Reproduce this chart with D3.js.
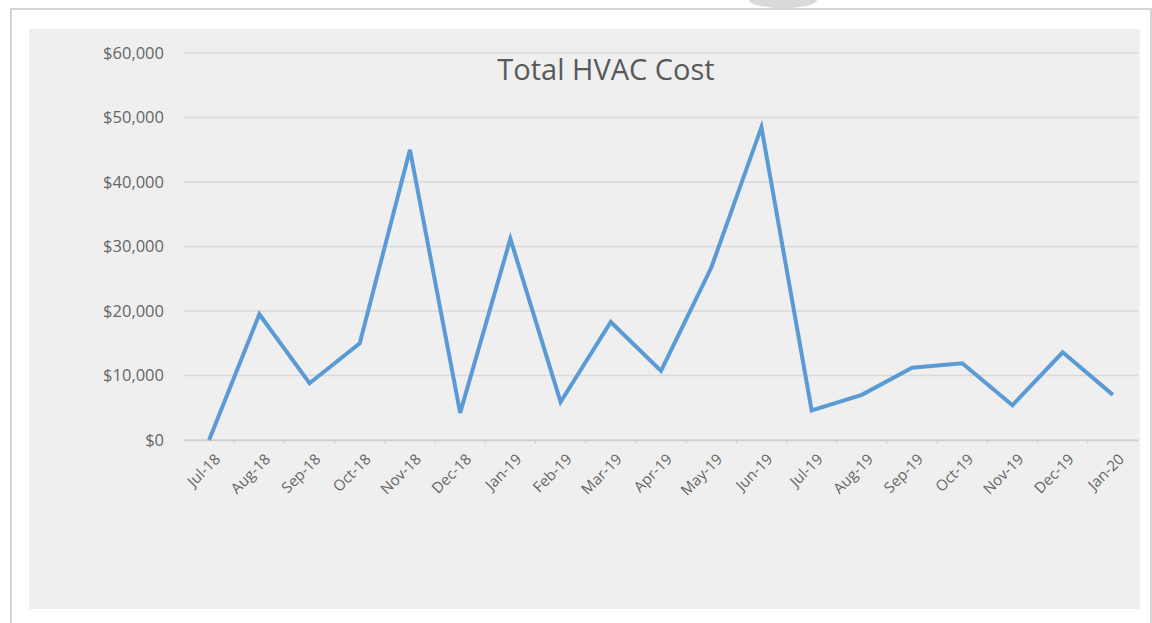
<!DOCTYPE html>
<meta charset="utf-8">
<script src="https://d3js.org/d3.v7.min.js"></script>
<style>
body { margin: 0; background: #fff; }
svg text { font-family: "Open Sans", "Noto Sans", sans-serif; fill: #595959; }
</style>
<div id="my_dataviz"></div>
<script>

// months on the category axis
var months = ["Jul-18", "Aug-18", "Sep-18", "Oct-18", "Nov-18", "Dec-18", "Jan-19",
  "Feb-19", "Mar-19", "Apr-19", "May-19", "Jun-19", "Jul-19", "Aug-19", "Sep-19",
  "Oct-19", "Nov-19", "Dec-19", "Jan-20"];

// total HVAC cost per month
var cost = [0, 19500, 8800, 15000, 45000, 4200, 31200, 5900, 18300, 10700, 26700,
  48500, 4600, 7000, 11200, 11900, 5400, 13600, 7000];

var yTicks = [0, 10000, 20000, 30000, 40000, 50000, 60000];

var W = 1152, H = 623;
var margin = {top: 53, right: 14, bottom: 183, left: 184},
    width = 1138 - margin.left,
    height = 440 - margin.top;

var root = d3.select("#my_dataviz")
  .append("svg")
    .attr("width", W)
    .attr("height", H);

// outer frame + grey panel
root.append("path")
  .attr("d", "M11,623 L11,9 L1151,9 L1151,623")
  .attr("fill", "none")
  .attr("stroke", "#d4d4d4")
  .attr("stroke-width", 2);
root.append("ellipse")
  .attr("cx", 783).attr("cy", 0).attr("rx", 34).attr("ry", 8)
  .attr("fill", "#d9d9d9");
root.append("rect")
  .attr("x", 29).attr("y", 29)
  .attr("width", 1111).attr("height", 580)
  .attr("fill", "#efefef");

var svg = root.append("g")
  .attr("transform", "translate(" + margin.left + "," + margin.top + ")");

var x = d3.scaleBand()
  .domain(months)
  .range([0, width]);

var y = d3.scaleLinear()
  .domain([0, 60000])
  .range([height, 0]);

// gridlines
svg.append("g")
  .selectAll("line")
  .data(yTicks)
  .enter()
  .append("line")
    .attr("x1", 0)
    .attr("x2", width)
    .attr("y1", function(d) { return y(d); })
    .attr("y2", function(d) { return y(d); })
    .attr("stroke", "#d9d9d9")
    .attr("stroke-width", 1.5);

// Y axis labels
var yAxis = svg.append("g")
  .call(d3.axisLeft(y).tickValues(yTicks).tickSize(0).tickPadding(20)
    .tickFormat(function(d) { return "$" + d3.format(",")(d); }));
yAxis.select(".domain").remove();
yAxis.selectAll("text").style("font-size", "16.5px").style("fill", "#666");

// X axis
var xAxis = svg.append("g")
  .attr("transform", "translate(0," + height + ")")
  .call(d3.axisBottom(x).tickSize(0));
xAxis.select(".domain").attr("stroke", "#d0d0d0").attr("stroke-width", 1.5);
xAxis.selectAll("text")
  .style("font-size", "15px")
  .style("fill", "#666")
  .attr("text-anchor", "end")
  .attr("dy", 0)
  .attr("transform", "translate(10,18) rotate(-45)");

// small marks between categories
svg.append("g")
  .selectAll("line")
  .data(months.slice(1))
  .enter()
  .append("line")
    .attr("x1", function(d) { return x(d); })
    .attr("x2", function(d) { return x(d); })
    .attr("y1", height)
    .attr("y2", height + 4)
    .attr("stroke", "#d0d0d0");

// the line
var line = d3.line()
  .x(function(d, i) { return x(months[i]) + x.bandwidth() / 2; })
  .y(function(d) { return y(d); });

svg.append("path")
  .datum(cost)
  .attr("fill", "none")
  .attr("stroke", "#5b9bd5")
  .attr("stroke-width", 4)
  .attr("stroke-linejoin", "miter")
  .attr("d", line);

// title
root.append("text")
  .attr("x", 606)
  .attr("y", 80)
  .attr("text-anchor", "middle")
  .style("font-size", "29px")
  .style("fill", "#595959")
  .text("Total HVAC Cost");

</script>
